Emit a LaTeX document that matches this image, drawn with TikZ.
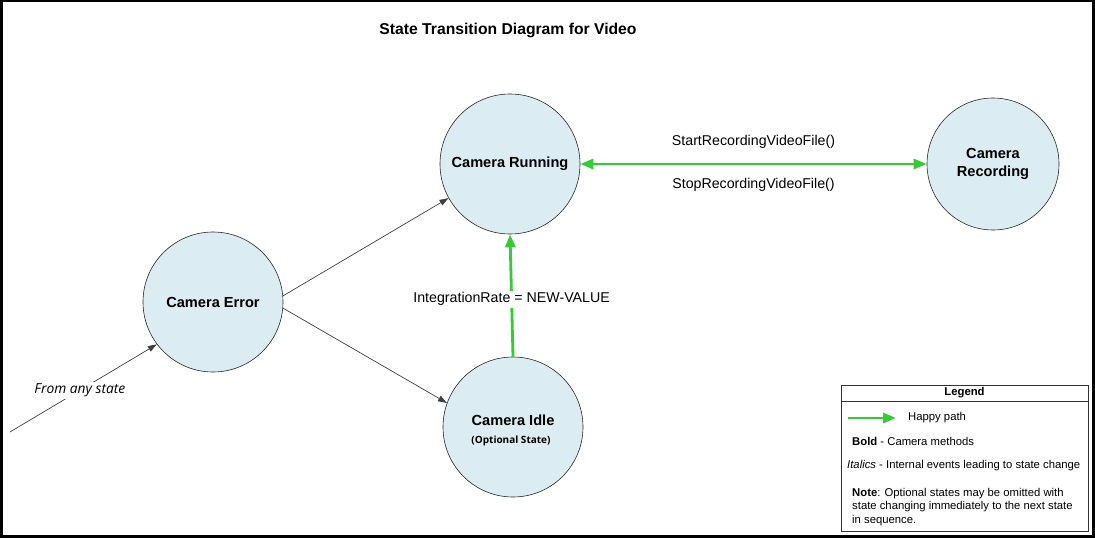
\documentclass[tikz,border=0pt]{standalone}
\usepackage{fontspec}
\setmainfont{Liberation Sans}
\newfontfamily\osans{Open Sans}
\usetikzlibrary{arrows.meta}
\definecolor{stfill}{RGB}{219,237,243}
\definecolor{hgreen}{RGB}{51,204,51}
\tikzset{
  state/.style={circle, draw=black!85, line width=0.6pt, fill=stfill, minimum size=#1, inner sep=0pt, align=center, font=\bfseries\fontsize{14.6}{18}\selectfont},
  happy/.style={draw=hgreen, line width=2.8pt, -{Triangle[length=13pt,width=10pt]}},
  happyboth/.style={draw=hgreen, line width=2.8pt, {Triangle[length=13pt,width=10pt]}-{Triangle[length=13pt,width=10pt]}},
  plain/.style={draw=black!75, line width=0.7pt, -{Triangle[length=9pt,width=6pt]}},
  lbl/.style={font=\fontsize{14.2}{16}\selectfont, inner sep=2pt},
  legtxt/.style={font=\fontsize{11.3}{13.6}\selectfont, anchor=west, inner sep=0pt, align=left}
}
\begin{document}
\begin{tikzpicture}[x=1pt,y=-1pt]
\useasboundingbox (0,0) rectangle (1095,538);
\fill[white] (0,0) rectangle (1095,538);
% frame
\fill[black] (0,0) rectangle (3,538);
\fill[black] (0,0) rectangle (1095,2);
\fill[black] (1092,0) rectangle (1095,538);
\fill[black] (0,535) rectangle (1095,538);

\node[font=\bfseries\fontsize{15.7}{18}\selectfont] (title) at (508,30) {State Transition Diagram for Video};

\node[state=140pt] (run) at (510,164) {Camera Running};
\node[state=132pt] (rec) at (993,164) {Camera\\Recording};
\node[state=140pt] (err) at (213,302) {Camera Error};
\node[state=140pt] (idle) at (513,427) {};
\node[font=\bfseries\fontsize{14.6}{17}\selectfont] (idlet) at (513,420) {Camera Idle};
\node[font=\osans\bfseries\fontsize{10}{12}\selectfont] (idles) at (511,441) {(Optional State)};

\draw[happyboth] (run.east) -- (rec.west)
  node[lbl, midway, yshift=22pt] (startlbl) {StartRecordingVideoFile()}
  node[lbl, midway, yshift=-21pt] (stoplbl) {StopRecordingVideoFile()};
\draw[happy] (idle.north) -- (run.south)
  node[lbl, pos=0.47, fill=white] (intlbl) {IntegrationRate = NEW-VALUE};

\draw[plain] (err.5) -- (run.209);
\draw[plain] (err.-5) -- (idle.160);
\coordinate (any) at (10,432);
\draw[plain] (any) -- (err.217)
  node[pos=0.476, fill=white, inner sep=2pt, font=\osans\itshape\fontsize{13.8}{16}\selectfont] (anylbl) {From any state};

% legend
\draw[black!80, line width=0.8pt] (841,385) rectangle (1088,531);
\draw[black!80, line width=0.8pt] (841,401) -- (1088,401);
\node[font=\bfseries\fontsize{11.3}{13}\selectfont] (legt) at (964.5,393) {Legend};
\coordinate (la) at (848,418);
\coordinate (lb) at (896,418);
\draw[draw=hgreen, line width=2.8pt, -{Triangle[length=13pt,width=10pt]}] (la) -- (lb);
\node[legtxt] (l1) at (908,418) {Happy path};
\node[legtxt] (l2) at (852,441) {\textbf{Bold} - Camera methods};
\node[legtxt] (l3) at (847,466) {\textit{Italics} - Internal events leading to state change};
\node[legtxt] (l4) at (852,507) {\textbf{Note}: Optional states may be omitted with\\state changing immediately to the next state\\in sequence.};
\end{tikzpicture}
\end{document}
